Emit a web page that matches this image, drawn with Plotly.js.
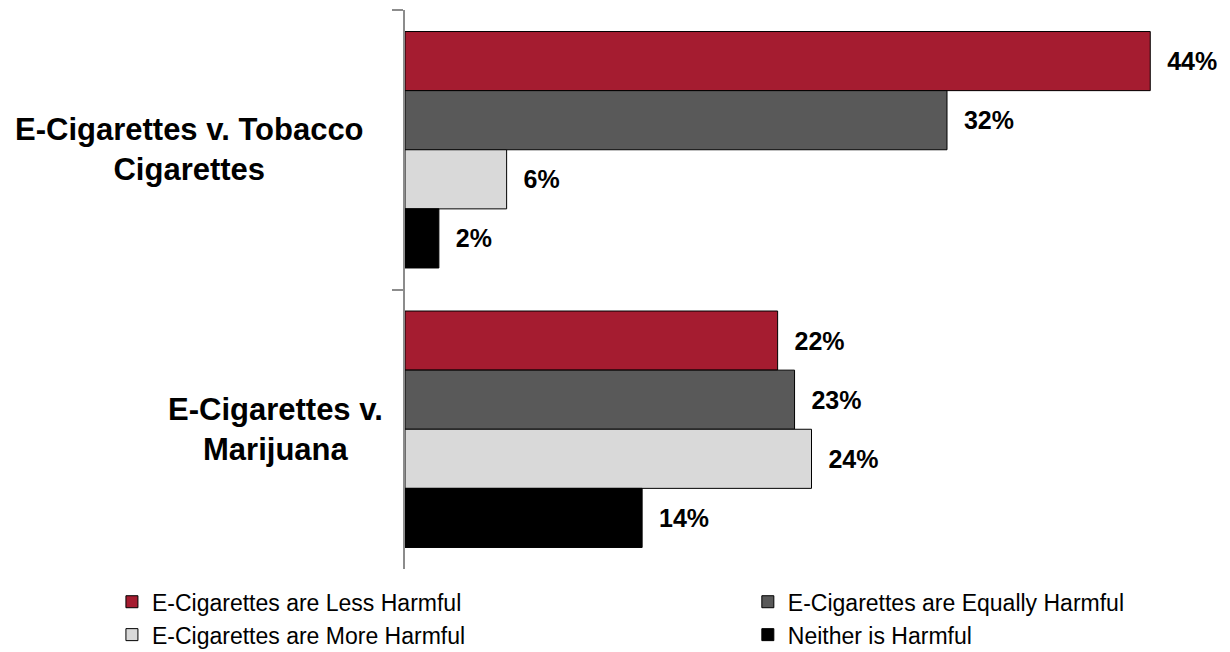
<!DOCTYPE html>
<html>
<head>
<meta charset="utf-8">
<script src="https://cdn.plot.ly/plotly-3.0.1.min.js"></script>
<style>html,body{margin:0;padding:0;background:#fff;}#chart{width:1230px;height:652px;}</style>
</head>
<body>
<div id="chart"></div>
<script>
var categories = ["E-Cigarettes v. Tobacco<br>Cigarettes", "E-Cigarettes v.<br>Marijuana"];
var seriesNames = ["E-Cigarettes are Less Harmful", "E-Cigarettes are Equally Harmful", "E-Cigarettes are More Harmful", "Neither is Harmful"];
var lessHarmful = [44, 22];
var equallyHarmful = [32, 23];
var moreHarmful = [6, 24];
var neitherHarmful = [2, 14];
var colors = ["#A51C30", "#595959", "#D9D9D9", "#000000"];

var seriesValues = [lessHarmful, equallyHarmful, moreHarmful, neitherHarmful];
var keys = ["c0", "c1"];
var legendOf = ["legend", "legend2", "legend", "legend2"];
var FONT = "'Liberation Sans', Arial, sans-serif";

var traces = seriesValues.map(function (vals, i) {
  return {
    type: "bar",
    orientation: "h",
    name: seriesNames[i],
    legend: legendOf[i],
    x: vals,
    y: keys,
    marker: { color: colors[i], line: { color: "#000000", width: 1 } },
    text: vals.map(function (v) { return "\u00a0\u00a0" + v + "%"; }),
    textposition: "outside",
    textfont: { family: FONT, size: 25, color: "#000", weight: "bold" },
    cliponaxis: false,
    hoverinfo: "none"
  };
});

var labelShift = [-216, -130];
var annotations = categories.map(function (c, i) {
  return {
    xref: "paper", yref: "y",
    x: 0, y: keys[i],
    xanchor: "center", yanchor: "middle",
    xshift: labelShift[i],
    align: "center",
    showarrow: false,
    text: "<b>" + c + "</b>",
    font: { family: FONT, size: 31, color: "#000" }
  };
});

var legendBase = {
  orientation: "v",
  xref: "container", yref: "container",
  xanchor: "left",
  y: 0.11, yanchor: "top",
  traceorder: "normal",
  font: { family: FONT, size: 23, color: "#000" },
  bgcolor: "rgba(0,0,0,0)"
};

var layout = {
  width: 1230, height: 652,
  margin: { l: 405, r: 12, t: 10, b: 83, autoexpand: false },
  paper_bgcolor: "#fff", plot_bgcolor: "#fff",
  barmode: "group",
  bargap: 0.154,
  bargroupgap: 0,
  showlegend: true,
  xaxis: { range: [0, 48], visible: false, fixedrange: true },
  yaxis: {
    type: "category",
    autorange: "reversed",
    showticklabels: false,
    showline: true, linecolor: "#8c8c8c", linewidth: 2,
    ticks: "outside", tickson: "boundaries", ticklen: 11, tickcolor: "#8c8c8c", tickwidth: 2,
    showgrid: false, zeroline: false
  },
  legend: Object.assign({}, legendBase, { x: 0.091 }),
  legend2: Object.assign({}, legendBase, { x: 0.608 }),
  annotations: annotations
};

Plotly.newPlot("chart", traces, layout, { staticPlot: true });
</script>
</body>
</html>
